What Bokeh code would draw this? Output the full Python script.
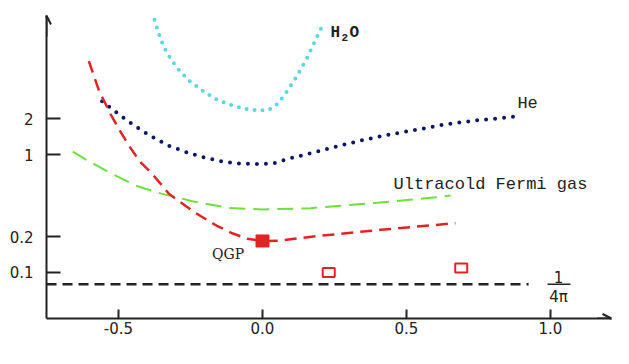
import numpy as np
from bokeh.plotting import figure
from bokeh.models import FixedTicker, Label, Arrow, OpenHead, NumeralTickFormatter, PrintfTickFormatter
from bokeh.embed import file_html
from bokeh.resources import INLINE

# ---------------- data ----------------
h2o_x = [-0.375, -0.361, -0.344, -0.319, -0.289, -0.252, -0.208, -0.159, -0.103, -0.044,
         0.017, 0.044, 0.076, 0.118, 0.155, 0.186, 0.207]
h2o_y = [13.86, 10.75, 8.28, 6.47, 5.15, 4.18, 3.47, 2.92, 2.59, 2.39,
         2.37, 2.55, 3.18, 4.55, 6.60, 9.56, 12.2]

he_x = [-0.557, -0.513, -0.468, -0.423, -0.374, -0.323, -0.266, -0.208, -0.147, -0.086,
        -0.023, 0.037, 0.097, 0.157, 0.215, 0.275, 0.334, 0.395, 0.456, 0.516,
        0.577, 0.639, 0.701, 0.763, 0.824, 0.887]
he_y = [2.83, 2.33, 1.93, 1.62, 1.37, 1.18, 1.05, 0.95, 0.88, 0.84,
        0.83, 0.84, 0.93, 1.01, 1.10, 1.20, 1.30, 1.40, 1.50, 1.59,
        1.69, 1.81, 1.89, 1.97, 2.03, 2.11]

qgp_x = [-0.603, -0.568, -0.528, -0.499, -0.464, -0.424, -0.383, -0.325, -0.285, -0.233,
         -0.160, -0.105, -0.053, 0.0, 0.06, 0.178, 0.41, 0.67]
qgp_y = [6.18, 3.49, 2.21, 1.65, 1.19, 0.861, 0.686, 0.465, 0.394, 0.32,
         0.25, 0.215, 0.193, 0.185, 0.186, 0.202, 0.230, 0.262]

fermi_x = [-0.659, -0.603, -0.534, -0.441, -0.395, -0.348, -0.291, -0.244, -0.117, 0.0,
           0.167, 0.398, 0.607, 0.653]
fermi_y = [1.06, 0.877, 0.708, 0.546, 0.502, 0.464, 0.430, 0.402, 0.353, 0.342,
           0.351, 0.390, 0.435, 0.449]

qgp_point_x = [0.0]
qgp_point_y = [0.185]
qgp_open_x = [0.23, 0.69]
qgp_open_y = [0.100, 0.109]

kss = 1.0 / (4.0 * np.pi)
kss_x = [-0.75, 0.924]
kss_y = [kss, kss]

x_ticks = [-0.5, 0.0, 0.5, 1.0]
y_ticks = [0.1, 0.2, 1, 2]

# ---------------- styles ----------------
XMIN, XMAX = -0.75, 1.2118
YMIN, YMAX = 0.04075, 15.07
AX = "#222222"
CYAN = "#58d8e0"
NAVY = "#0c1766"
RED = "#e02424"
GREEN = "#6ee03a"

p = figure(width=613, height=348, x_range=(XMIN, XMAX), y_range=(YMIN, YMAX),
           y_axis_type="log", output_backend="svg", toolbar_location=None,
           min_border_left=46, min_border_right=2, min_border_top=15, min_border_bottom=30)
p.outline_line_color = None
p.grid.visible = False

# curves
p.line(h2o_x, h2o_y, line_color=CYAN, line_width=4, line_dash="0 8", line_cap="round")
p.line(he_x, he_y, line_color=NAVY, line_width=4, line_dash="0 9", line_cap="round")
p.line(fermi_x, fermi_y, line_color=GREEN, line_width=2, line_dash="16 8")
p.line(qgp_x, qgp_y, line_color=RED, line_width=2.5, line_dash="12 7")
p.line(kss_x, kss_y, line_color=AX, line_width=2.5, line_dash="10 6")

p.rect(qgp_point_x, qgp_point_y, width=13, height=12, width_units="screen", height_units="screen",
       fill_color=RED, line_color=RED)
p.rect(qgp_open_x, qgp_open_y, width=12, height=9, width_units="screen", height_units="screen",
       fill_color="white", line_color=RED, line_width=2)

# axes
for ax in (p.xaxis, p.yaxis):
    ax.axis_line_width = 2
    ax.axis_line_color = AX
    ax.major_tick_line_width = 2
    ax.major_tick_line_color = AX
    ax.minor_tick_line_color = None
    ax.major_tick_out = 0
    ax.major_label_text_font = "DejaVu Sans"
    ax.major_label_text_font_size = "15px"
    ax.major_label_text_color = AX
p.xaxis.ticker = FixedTicker(ticks=x_ticks)
p.xaxis.formatter = NumeralTickFormatter(format="0.0")
p.xaxis.major_tick_in = 9
p.xaxis.major_label_standoff = 3
p.yaxis.ticker = FixedTicker(ticks=y_ticks)
p.yaxis.formatter = PrintfTickFormatter(format="%g")
p.yaxis.major_tick_in = 14
p.yaxis.major_label_standoff = 13

# axis arrow heads
p.add_layout(Arrow(end=OpenHead(size=9, line_width=2, line_color=AX), x_start=XMAX - 0.05, y_start=YMIN,
                   x_end=XMAX, y_end=YMIN, line_width=2, line_color=AX))
p.add_layout(Arrow(end=OpenHead(size=9, line_width=2, line_color=AX), x_start=XMIN, y_start=10,
                   x_end=XMIN, y_end=YMAX, line_width=2, line_color=AX))


def lab(x, y, text, font="Liberation Mono", size="17px", style="normal", align="left",
        xo=0, yo=0, color=AX):
    p.add_layout(Label(x=x, y=y, text=text, text_font=font, text_font_size=size,
                       text_font_style=style, text_align=align, text_baseline="middle",
                       x_offset=xo, y_offset=yo, text_color=color))


def bar(x0, x1, y, w=1.5):
    p.add_layout(Arrow(end=None, x_start=x0, y_start=y, x_end=x1, y_end=y,
                       line_width=w, line_color=AX))


# series labels
lab(0.236, 10.81, "H", style="bold", size="16px")
lab(0.236, 10.81, "2", style="bold", size="11px", xo=11, yo=-5)
lab(0.236, 10.81, "O", style="bold", size="16px", xo=19)
lab(0.885, 2.68, "He")
lab(0.455, 0.562, "Ultracold Fermi gas")
lab(-0.175, 0.144, "QGP", font="DejaVu Serif", size="14px")

# 1/(4 pi)
lab(1.028, kss, "1", font="DejaVu Sans", size="15px", align="center", yo=7)
bar(0.9896, 1.0694, kss)
lab(1.028, kss, "4π", font="DejaVu Sans", size="15px", align="center", yo=-13)

# y label eta/s
lab(XMIN, YMAX, "η", font="DejaVu Sans", size="18px", align="center", xo=-22, yo=1)
bar(-0.8472, -0.8021, 12.76)
lab(XMIN, YMAX, "s", font="DejaVu Sans", size="18px", align="center", xo=-21, yo=-17)

# x label (T - Tc)/Tc
lab(1.0625, YMIN, "T−T", size="12px", yo=-8)
lab(1.0625, YMIN, "c", size="9px", xo=22, yo=-11)
bar(1.0556, 1.1875, 0.0304)
lab(1.0972, YMIN, "T", size="12px", yo=-22)
lab(1.0972, YMIN, "c", size="9px", xo=7, yo=-24)

open("out.html", "w").write(file_html(p, INLINE))
